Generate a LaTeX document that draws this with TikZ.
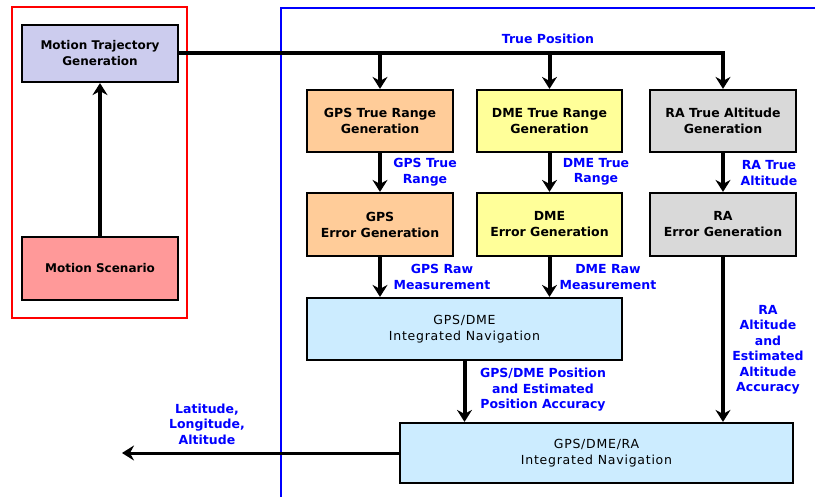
\documentclass[tikz,border=0pt]{standalone}
\usepackage{fontspec}
\setmainfont{DejaVu Sans}
\newfontfamily\navfont[LetterSpace=6]{DejaVu Sans}
\usetikzlibrary{arrows.meta}
\definecolor{trajfill}{RGB}{204,204,238}
\definecolor{scenfill}{RGB}{255,153,153}
\definecolor{gpsfill}{RGB}{255,204,153}
\definecolor{dmefill}{RGB}{255,255,153}
\definecolor{rafill}{RGB}{217,217,217}
\definecolor{navfill}{RGB}{204,236,255}
\definecolor{lblblue}{RGB}{0,0,255}
\definecolor{framered}{RGB}{255,0,0}
\begin{document}
\begin{tikzpicture}[x=1pt,y=-1pt,
  blk/.style={draw=black, line width=2.2pt, inner sep=0pt, align=center,
    text=black, font=\fontsize{12.5}{16}\selectfont\bfseries},
  navblk/.style={draw=black, line width=2.2pt, inner sep=0pt, align=center,
    fill=navfill, text=black, font=\fontsize{12.5}{16}\selectfont\navfont},
  lbl/.style={text=lblblue, align=center, inner sep=0pt,
    font=\fontsize{12.5}{15.5}\selectfont\bfseries},
  conn/.style={draw=black, line width=4pt},
  arr/.style={conn, -{Stealth[length=12pt,width=15pt,inset=4pt]}}
]
\useasboundingbox (0,0) rectangle (815,497);
% frames
\draw[framered, line width=2.5pt] (12,7) rectangle (187,318);
\draw[lblblue, line width=2.5pt] (281,497) -- (281,8) -- (815,8);
% boxes
\node[blk, fill=trajfill, minimum width=156pt, minimum height=57pt, font=\fontsize{12}{16}\selectfont\bfseries] (traj) at (100,53.5) {Motion Trajectory\\Generation};
\node[blk, fill=scenfill, minimum width=156pt, minimum height=63pt, font=\fontsize{12}{16}\selectfont\bfseries] (scen) at (100,268.5) {Motion Scenario};
\node[blk, fill=gpsfill, minimum width=146pt, minimum height=62pt] (gpsT) at (380,121) {GPS True Range\\Generation};
\node[blk, fill=dmefill, minimum width=145pt, minimum height=62pt] (dmeT) at (549.5,121) {DME True Range\\Generation};
\node[blk, fill=rafill, minimum width=146pt, minimum height=62pt] (raT) at (723,121) {RA True Altitude\\Generation};
\node[blk, fill=gpsfill, minimum width=146pt, minimum height=63pt] (gpsE) at (380,224.5) {GPS\\Error Generation};
\node[blk, fill=dmefill, minimum width=145pt, minimum height=63pt] (dmeE) at (549.5,224.5) {DME\\Error Generation};
\node[blk, fill=rafill, minimum width=146pt, minimum height=63pt] (raE) at (723,224.5) {RA\\Error Generation};
\node[navblk, minimum width=315pt, minimum height=62pt] (nav1) at (464.5,329) {GPS/DME\\Integrated Navigation};
\node[navblk, minimum width=393pt, minimum height=60pt] (nav2) at (596.5,453) {GPS/DME/RA\\Integrated Navigation};
\coordinate (out) at (122,453);
% connectors
\draw[arr] (scen.north) -- (traj.south);
\draw[arr] (traj.east) -- (raT.north |- traj.east) -- (raT.north);
\draw[arr] (gpsT.north |- traj.east) -- (gpsT.north);
\draw[arr] (dmeT.north |- traj.east) -- (dmeT.north);
\draw[arr] (gpsT.south) -- (gpsE.north);
\draw[arr] (dmeT.south) -- (dmeE.north);
\draw[arr] (raT.south) -- (raE.north);
\draw[arr] (gpsE.south) -- (gpsE.south |- nav1.north);
\draw[arr] (dmeE.south) -- (dmeE.south |- nav1.north);
\draw[arr] (raE.south) -- (raE.south |- nav2.north);
\draw[arr] (nav1.south) -- (nav1.south |- nav2.north);
\draw[arr, line width=3pt] (nav2.west) -- (out);
% labels
\node[lbl] (lTP) at (548,39) {True Position};
\node[lbl] (lGTR) at (425,172) {GPS True\\Range};
\node[lbl] (lDTR) at (596,172) {DME True\\Range};
\node[lbl] (lRTA) at (769,173) {RA True\\Altitude};
\node[lbl] (lGRM) at (442,277) {GPS Raw\\Measurement};
\node[lbl] (lDRM) at (608,277) {DME Raw\\Measurement};
\node[lbl] (lPOS) at (543,390) {GPS/DME Position\\and Estimated\\Position Accuracy};
\node[lbl] (lRAA) at (768,350) {RA\\Altitude\\and\\Estimated\\Altitude\\Accuracy};
\node[lbl] (lLLA) at (207,424) {Latitude,\\Longitude,\\Altitude};
\end{tikzpicture}
\end{document}
